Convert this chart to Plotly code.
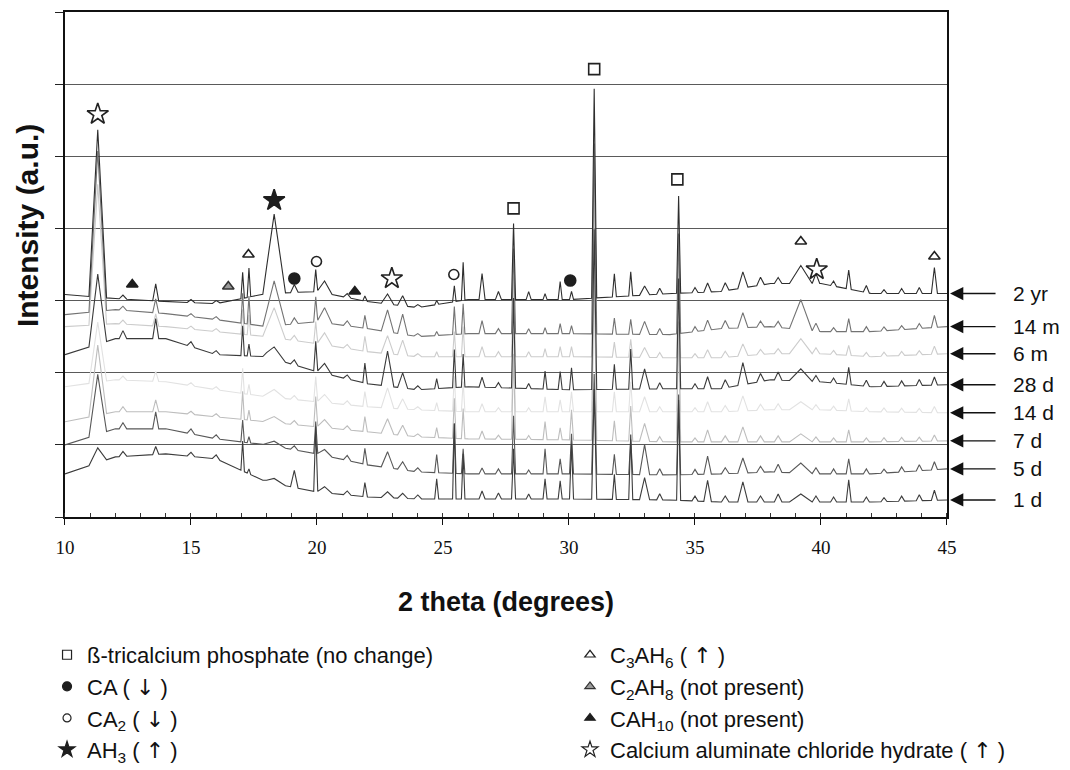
import numpy as np
import plotly.graph_objects as go

# ---------------- data (intensity in arbitrary units, grid every 72 a.u.) ----------------
node_x = [10, 12, 14, 16, 18, 20, 22, 24, 26, 30, 34, 36, 38, 40, 42, 45]

peak_pos = [11.3, 12.3, 13.6, 15.0, 16.0, 17.05, 17.3, 18.3, 19.1, 19.95, 20.3, 21.2, 21.9,
            22.8, 23.4, 24.0, 24.75, 25.45, 25.8, 26.55, 27.2, 27.8, 28.4, 29.05, 29.65, 30.1,
            31.0, 31.8, 32.45, 33.0, 33.6, 34.35, 35.0, 35.5, 36.2, 36.9, 37.6, 38.3, 39.2,
            39.8, 40.5, 41.1, 41.8, 42.5, 43.2, 43.9, 44.5]
peak_halfwidth = [0.35, 0.15, 0.12, 0.15, 0.15, 0.07, 0.07, 0.45, 0.15, 0.08, 0.3, 0.15, 0.08,
                  0.25, 0.2, 0.15, 0.08, 0.07, 0.07, 0.12, 0.12, 0.08, 0.1, 0.08, 0.08, 0.08,
                  0.1, 0.08, 0.08, 0.2, 0.12, 0.08, 0.12, 0.15, 0.15, 0.2, 0.15, 0.15, 0.45,
                  0.15, 0.12, 0.1, 0.12, 0.12, 0.12, 0.12, 0.12]

base_2yr = [222, 218, 215, 213, 223, 225, 215, 209, 217, 217, 223, 225, 233, 233, 223, 223]
base_14m = [202, 207, 203, 197, 190, 195, 188, 180, 183, 183, 182, 188, 190, 185, 185, 190]
base_6m = [190, 193, 190, 185, 180, 173, 165, 160, 160, 160, 159, 159, 163, 163, 160, 163]
base_28d = [162, 178, 178, 162, 160, 145, 133, 127, 130, 127, 128, 128, 137, 135, 130, 132]
base_14d = [130, 137, 135, 127, 120, 115, 110, 107, 105, 105, 105, 105, 107, 107, 105, 104]
base_7d = [95, 105, 105, 100, 95, 90, 85, 80, 78, 77, 75, 75, 75, 75, 75, 76]
base_5d = [72, 88, 88, 78, 72, 63, 52, 45, 43, 43, 42, 43, 45, 43, 43, 48]
base_1d = [43, 60, 63, 58, 35, 25, 20, 18, 18, 18, 17, 15, 15, 15, 15, 17]

peaks_2yr = [167, 4, 17, 3, 3, 26, 29, 79, 8, 22, 12, 4, 5, 10, 10, 3, 4, 16, 38, 26, 8, 76, 8, 6,
             18, 8, 209, 23, 24, 9, 6, 97, 5, 9, 8, 16, 8, 6, 18, 10, 5, 19, 7, 4, 5, 6, 26]
peaks_14m = [160, 4, 14, 3, 3, 30, 28, 45, 6, 25, 15, 5, 13, 22, 20, 3, 4, 28, 30, 13, 5, 85, 5, 6,
             10, 8, 190, 16, 15, 13, 6, 100, 5, 10, 8, 15, 6, 6, 30, 8, 4, 13, 5, 4, 4, 5, 12]
peaks_6m = [140, 4, 12, 3, 3, 25, 20, 30, 5, 22, 12, 4, 15, 18, 15, 3, 5, 25, 30, 10, 5, 80, 5, 8,
            10, 10, 180, 15, 18, 10, 5, 95, 4, 8, 6, 12, 5, 5, 15, 6, 4, 10, 4, 4, 4, 4, 8]
peaks_28d = [70, 8, 20, 5, 4, 30, 12, 12, 5, 30, 10, 4, 20, 35, 15, 4, 10, 38, 33, 10, 5, 90, 5, 18,
             18, 22, 160, 25, 40, 20, 6, 110, 5, 12, 8, 22, 8, 8, 12, 6, 5, 17, 6, 5, 5, 6, 8]
peaks_14d = [60, 4, 10, 3, 3, 25, 10, 8, 4, 25, 8, 4, 15, 20, 10, 3, 8, 35, 30, 8, 4, 80, 4, 15,
             12, 20, 150, 20, 30, 15, 5, 100, 4, 10, 6, 15, 6, 6, 8, 5, 4, 12, 4, 4, 4, 4, 6]
peaks_7d = [70, 5, 12, 3, 3, 28, 10, 6, 4, 30, 8, 4, 15, 15, 10, 3, 10, 40, 30, 8, 4, 85, 4, 18,
            12, 30, 170, 20, 35, 18, 5, 120, 4, 12, 6, 15, 6, 6, 8, 5, 4, 12, 4, 4, 4, 4, 6]
peaks_5d = [60, 6, 17, 5, 4, 22, 6, 5, 4, 32, 6, 5, 16, 16, 8, 4, 18, 50, 25, 6, 5, 58, 4, 25,
            15, 40, 100, 20, 35, 30, 6, 80, 5, 18, 6, 15, 6, 8, 10, 6, 5, 15, 5, 4, 5, 6, 8]
peaks_1d = [15, 5, 8, 4, 4, 30, 5, 5, 17, 65, 6, 4, 14, 6, 5, 4, 20, 75, 45, 8, 6, 50, 5, 20,
            18, 55, 110, 25, 65, 22, 6, 100, 5, 21, 6, 20, 6, 8, 8, 6, 5, 22, 5, 4, 5, 6, 10]

sample_labels = ["2 yr", "14 m", "6 m", "28 d", "14 d", "7 d", "5 d", "1 d"]

# phase markers (2 theta, intensity)
tcp_x, tcp_y = [27.8, 31.0, 34.3], [308, 447, 337]
ca_x, ca_y = [19.1, 30.05], [238, 236]
ca2_x, ca2_y = [19.98, 25.43], [255, 242]
ah3_x, ah3_y = [18.3], [316]
c3ah6_x, c3ah6_y = [17.28, 39.2, 44.5], [262, 275, 260]
c2ah8_x, c2ah8_y = [16.48], [230]
cah10_x, cah10_y = [12.67, 21.5], [232, 225]
cach_x, cach_y = [11.3, 22.97, 39.83], [402, 238, 247]

x_ticks = [10, 15, 20, 25, 30, 35, 40, 45]

# ---------------- build figure ----------------
bases = [base_2yr, base_14m, base_6m, base_28d, base_14d, base_7d, base_5d, base_1d]
peaks = [peaks_2yr, peaks_14m, peaks_6m, peaks_28d, peaks_14d, peaks_7d, peaks_5d, peaks_1d]
colors = ["#2e2e2e", "#737373", "#cccccc", "#3a3a3a", "#e2e2e2", "#bdbdbd", "#585858", "#3c3c3c"]
draw_order = [4, 2, 5, 1, 6, 3, 7, 0]


def profile(base, heights):
    pts = set(node_x)
    for p, w in zip(peak_pos, peak_halfwidth):
        pts.update([p - w, p, p + w])
    xs = np.array(sorted(v for v in pts if 10 <= v <= 45))
    ys = np.interp(xs, node_x, base)
    for p, w, h in zip(peak_pos, peak_halfwidth, heights):
        ys = ys + h * np.clip(1 - np.abs(xs - p) / w, 0, None)
    return xs, ys


fig = go.Figure()
for i in draw_order:
    xs, ys = profile(bases[i], peaks[i])
    fig.add_trace(go.Scatter(x=xs, y=ys, mode="lines", name=sample_labels[i],
                             line=dict(color=colors[i], width=1.1), showlegend=False,
                             hoverinfo="skip"))

SANS = "Liberation Sans, DejaVu Sans, Arial"
UP = "<span style='font-family:DejaVu Sans;color:#111'>↑</span>"
DOWN = "<span style='font-family:DejaVu Sans;color:#111'>↓</span>"
phases = [
    ("ß-tricalcium phosphate (no change)", tcp_x, tcp_y, "square-open", 11, "#222", "#222", 9, "legend"),
    (f"CA ( {DOWN} )", ca_x, ca_y, "circle", 11, "#1e1e1e", "#1e1e1e", 9, "legend"),
    (f"CA<sub>2</sub> ( {DOWN} )", ca2_x, ca2_y, "circle-open", 10, "#222", "#222", 8, "legend"),
    (f"AH<sub>3</sub> ( {UP} )", ah3_x, ah3_y, "star", 16, "#1e1e1e", "#1e1e1e", 12, "legend"),
    (f"C<sub>3</sub>AH<sub>6</sub> ( {UP} )", c3ah6_x, c3ah6_y, "triangle-up-open", 10, "#222", "#222", 9, "legend2"),
    ("C<sub>2</sub>AH<sub>8</sub> (not present)", c2ah8_x, c2ah8_y, "triangle-up", 10, "#9a9a9a", "#333", 9, "legend2"),
    ("CAH<sub>10</sub> (not present)", cah10_x, cah10_y, "triangle-up", 10, "#1e1e1e", "#1e1e1e", 9, "legend2"),
    (f"Calcium aluminate chloride hydrate ( {UP} )", cach_x, cach_y, "star-open", 16, "#222", "#222", 12, "legend2"),
]
for name, px, py, sym, size, fill, edge, lsize, leg in phases:
    fig.add_trace(go.Scatter(x=px, y=py, mode="markers", showlegend=False, hoverinfo="skip",
                             marker=dict(symbol=sym, size=size, color=fill,
                                         line=dict(color=edge, width=1.6))))
for name, px, py, sym, size, fill, edge, lsize, leg in phases:
    fig.add_trace(go.Scatter(x=[None], y=[None], mode="markers", name=name, legend=leg,
                             marker=dict(symbol=sym, size=lsize, color=fill,
                                         line=dict(color=edge, width=1.2))))

# arrows + sample labels at the right, pointing to each pattern's end level
for lab, base in zip(sample_labels, bases):
    fig.add_annotation(x=0.8885, xref="paper", y=base[-1], yref="y", text="",
                       showarrow=True, ax=47, ay=0, arrowhead=2, arrowsize=1.9,
                       arrowwidth=1.4, arrowcolor="#111")
    fig.add_annotation(x=0.9461, xref="paper", y=base[-1], yref="y", text=lab,
                       showarrow=False, xanchor="left", yanchor="middle",
                       font=dict(family=SANS, size=21, color="#111"))

fig.add_annotation(x=0.0161, xref="paper", y=0.7169, yref="paper", text="<b>Intensity (a.u.)</b>",
                   textangle=-90, showarrow=False, xanchor="center", yanchor="middle",
                   font=dict(family=SANS, size=30, color="#111"))
fig.add_annotation(x=0.4688, xref="paper", y=0.2196, yref="paper", text="<b>2 theta (degrees)</b>",
                   showarrow=False, xanchor="center", yanchor="middle",
                   font=dict(family=SANS, size=27, color="#111"))

legend_common = dict(orientation="v", yanchor="top", xanchor="left", bgcolor="rgba(0,0,0,0)",
                     font=dict(family=SANS, size=22, color="#111"))
fig.update_layout(
    width=1062, height=762,
    margin=dict(l=2, r=2, t=4, b=2, autoexpand=False),
    paper_bgcolor="white", plot_bgcolor="white",
    showlegend=True,
    legend=dict(x=0.0350, y=0.1773, **legend_common),
    legend2=dict(x=0.5293, y=0.1773, **legend_common),
    xaxis=dict(domain=[0.05198, 0.88563], range=[10, 45], tickvals=x_ticks, ticks="outside",
               ticklen=6, tickcolor="#111", showline=True, linecolor="#111", linewidth=2,
               mirror=True, showgrid=False, zeroline=False, ticklabelstandoff=6,
               tickfont=dict(family="Liberation Serif, Times New Roman", size=19, color="#111"),
               minor=dict(dtick=1, ticks="inside", ticklen=4, tickcolor="#333")),
    yaxis=dict(domain=[0.33201, 1.0], range=[0, 504], dtick=72, tick0=0, showticklabels=False,
               ticks="outside", ticklen=8, tickcolor="#222", showgrid=True, gridcolor="#5a5a5a",
               gridwidth=1, showline=True, linecolor="#111", linewidth=2, mirror=True,
               zeroline=False),
)

fig.write_html("out.html")
